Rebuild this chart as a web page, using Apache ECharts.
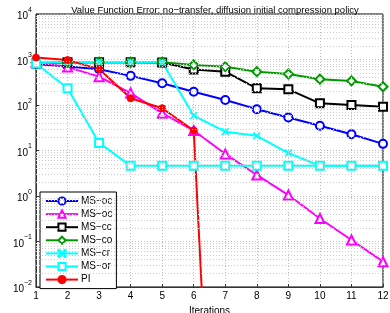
<!DOCTYPE html>
<html><head><meta charset="utf-8">
<script src="https://cdn.jsdelivr.net/npm/echarts@6/dist/echarts.min.js"></script>
<style>html,body{margin:0;padding:0;background:#fff}#c{width:390px;height:313px}</style>
</head><body><div id="c"></div>
<script>
const iterations = [1,2,3,4,5,6,7,8,9,10,11,12];
const msOc1 = [800, 700, 610, 437, 300, 195, 129, 81, 53, 35, 22.7, 14];
const msOc2 = [880, 680, 420, 183, 66, 27.5, 8.4, 2.9, 1.05, 0.32, 0.108, 0.036];
const msCc  = [820, 870, 870, 870, 860, 605, 540, 233, 221, 109, 100, 92];
const msCo  = [850, 870, 870, 870, 870, 760, 696, 540, 480, 368, 338, 252];
const msCr  = [830, 880, 880, 880, 870, 58, 25.9, 21, 8.8, 4.6, 4.6, 4.6];
const msOr  = [820, 233, 14.7, 4.6, 4.6, 4.6, 4.6, 4.6, 4.6, 4.6, 4.6, 4.6];
const pi    = [1100, 970, 615, 141, 85, 27.5, 5e-13];
const seriesNames = ['MS\u2212oc', 'MS\u2212oc\u200b', 'MS\u2212cc', 'MS\u2212co', 'MS\u2212cr', 'MS\u2212or', 'PI'];
const yDecades = [-2,-1,0,1,2,3,4];
const minorMultipliers = [2,3,4,5,6,7,8,9];

const minorLines = [];
yDecades.slice(0,-1).forEach(d => minorMultipliers.forEach(m => minorLines.push({yAxis: m*Math.pow(10,d)})));

const pairs = arr => arr.map((v,i)=>[iterations[i], v]);
const xSym = 'path://M0,1L1,0L5,4L9,0L10,1L6,5L10,9L9,10L5,6L1,10L0,9L4,5Z';
const font = 'Liberation Sans, Arial, Helvetica, sans-serif';

function mk(name, data, color, symbol, size, filled) {
  return {
    name, type: 'line', data: pairs(data), symbol, symbolSize: size,
    showAllSymbol: true, clip: true,
    lineStyle: {color, width: 2},
    itemStyle: filled ? {color, borderColor: color, borderWidth: 1} : {color, borderColor: color, borderWidth: 1.6},
    emphasis: {disabled: true}, z: 3
  };
}

const chart = echarts.init(document.getElementById('c'), null, {renderer: 'canvas'});
chart.setOption({
  animation: false,
  backgroundColor: '#fff',
  textStyle: {fontFamily: font},
  title: {
    text: 'Value Function Error: no\u2212transfer, diffusion initial compression policy',
    left: 210, top: 0, textAlign: 'center',
    textStyle: {fontSize: 9.5, fontWeight: 'normal', color: '#000', fontFamily: font}
  },
  grid: {left: 36, right: 7, top: 14, bottom: 26, containLabel: false, outerBoundsMode: 'none',
    show: true, borderColor: '#000', borderWidth: 1},
  legend: {
    orient: 'vertical', left: 40, top: 192,
    data: seriesNames,
    itemWidth: 32, itemHeight: 9, itemGap: 3.1,
    padding: [4, 4, 4, 5],
    backgroundColor: '#fff', borderColor: '#000', borderWidth: 1,
    textStyle: {fontSize: 10, color: '#000', fontFamily: font, padding: [0,0,0,-2]},
    selectedMode: false
  },
  xAxis: {
    type: 'value', min: 1, max: 12, interval: 1,
    name: 'Iterations', nameLocation: 'middle', nameGap: 13,
    nameTextStyle: {fontSize: 10, color: '#000'},
    axisLine: {lineStyle: {color: '#333', width: 1}},
    axisTick: {inside: true, length: 3, lineStyle: {color: '#333'}},
    axisLabel: {fontSize: 10, color: '#000', margin: 4},
    splitLine: {show: true, lineStyle: {color: '#bbb', type: [1,2], width: 1}}
  },
  yAxis: {
    type: 'log', logBase: 10, min: 0.01, max: 10000,
    name: 'Error', nameLocation: 'middle', nameGap: 23,
    nameTextStyle: {fontSize: 10, color: '#000'},
    axisLine: {show: true, lineStyle: {color: '#333', width: 1}},
    axisTick: {inside: true, length: 3, lineStyle: {color: '#333'}},
    axisLabel: {
      margin: 4, color: '#000',
      formatter: v => { const e = Math.round(Math.log10(v)); return '{b|10}{s|' + (e<0 ? '\u2212'+(-e) : e) + '}'; },
      rich: {b: {fontSize: 10, color: '#000', fontFamily: font, padding: [5,0,0,0]},
             s: {fontSize: 7, color: '#000', fontFamily: font, verticalAlign: 'top', padding: [0,0,5,0]}}
    },
    splitLine: {show: true, lineStyle: {color: '#bbb', type: [1,2], width: 1}}
  },
  series: [
    {type: 'line', data: [], silent: true, legendHoverLink: false, z: 1,
     markLine: {silent: true, symbol: 'none', label: {show: false}, animation: false,
       lineStyle: {color: '#ccc', type: [1,2], width: 1}, data: minorLines}},
    mk(seriesNames[0], msOc1, '#0000ff', 'emptyCircle', 8, false),
    mk(seriesNames[1], msOc2, '#ff00ff', 'emptyTriangle', 9, false),
    mk(seriesNames[2], msCc, '#000000', 'emptyRect', 8, false),
    mk(seriesNames[3], msCo, '#009900', 'emptyDiamond', 9, false),
    mk(seriesNames[4], msCr, '#00ffff', xSym, 7, true),
    mk(seriesNames[5], msOr, '#00ffff', 'emptyRect', 8, false),
    mk(seriesNames[6], pi, '#ff0000', 'circle', 7, true)
  ]
});
</script></body></html>
